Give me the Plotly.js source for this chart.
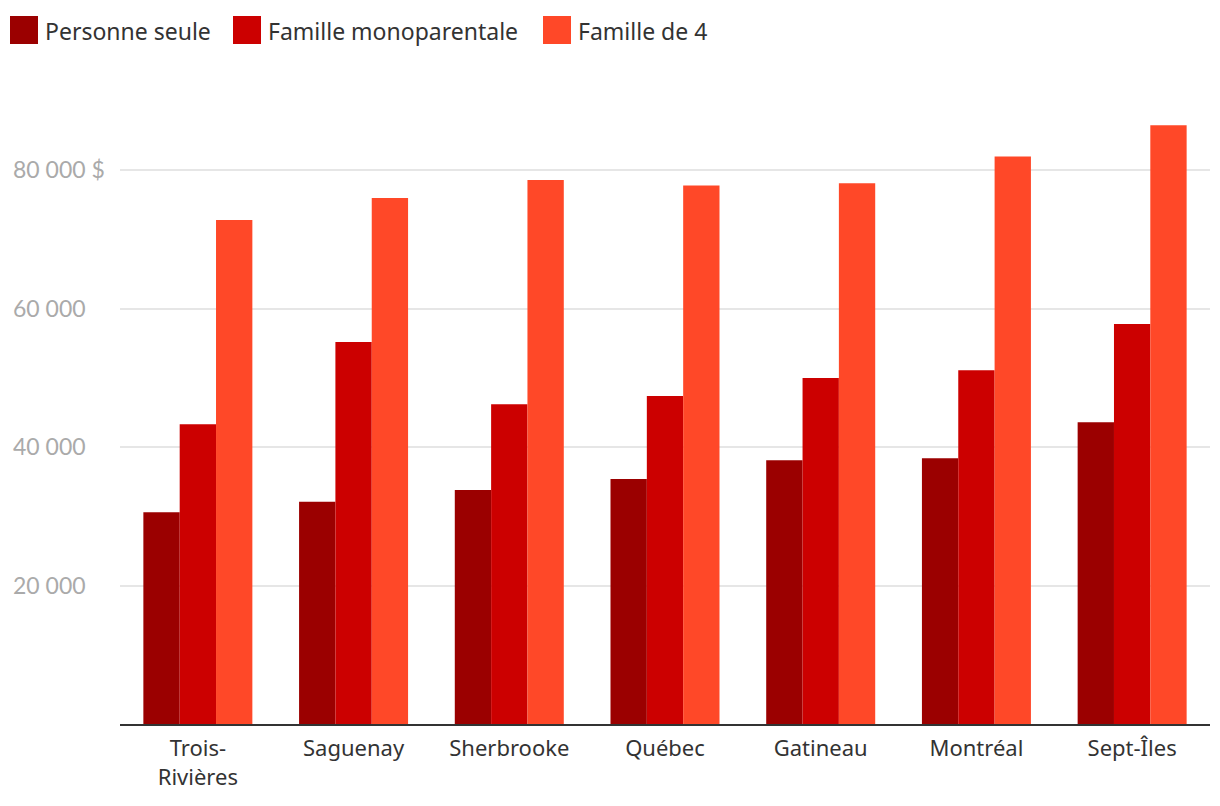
<!DOCTYPE html>
<html><head><meta charset="utf-8">
<script src="https://cdn.plot.ly/plotly-3.0.1.min.js"></script>
<style>html,body{margin:0;padding:0;background:#fff}#c{width:1220px;height:806px}</style>
</head><body><div id="c"></div>
<script>
const categories = ["Trois-<br>Rivières","Saguenay","Sherbrooke","Québec","Gatineau","Montréal","Sept-Îles"];
const seriesNames = ["Personne seule","Famille monoparentale","Famille de 4"];
const personneSeule = [30600, 32100, 33800, 35400, 38100, 38400, 43600];
const familleMono = [43300, 55200, 46200, 47400, 50000, 51100, 57800];
const famille4 = [72800, 76000, 78600, 77800, 78100, 82000, 86500];
const colors = ["#9b0000","#cc0000","#ff4828"];
const tickVals = [20000, 40000, 60000, 80000];
const tickText = ["20 000","40 000","60 000","80 000 $"];

const series = [personneSeule, familleMono, famille4];
const traces = series.map((v,i)=>({
  type:'bar', x:categories, y:v, name:seriesNames[i],
  marker:{color:colors[i], line:{width:0}}, hoverinfo:'none'
}));

const W=1220, H=806, L=120, R=10, T=101, B=82;
const pw=W-L-R, ph=H-T-B;
const px=x=>(x-L)/pw, py=y=>(H-B-y)/ph;
const legX=[10,233,543];
const shapes=[], annotations=[];
seriesNames.forEach((n,i)=>{
  shapes.push({type:'rect',xref:'paper',yref:'paper',x0:px(legX[i]),x1:px(legX[i]+28),y0:py(44),y1:py(16),fillcolor:colors[i],line:{width:0}});
  annotations.push({xref:'paper',yref:'paper',x:px(legX[i]+33),y:py(31),xanchor:'left',yanchor:'middle',text:n,showarrow:false,font:{family:'Noto Sans, sans-serif',size:23,color:'#333'}});
});

const layout={
  width:W,height:H,margin:{l:L,r:R,t:T,b:B},
  paper_bgcolor:'#fff',plot_bgcolor:'#fff',
  barmode:'group',bargap:0.3,bargroupgap:0,showlegend:false,
  xaxis:{range:[-0.5,6.5],showgrid:false,showline:true,linecolor:'#333',linewidth:2,ticks:'',ticklabelstandoff:4,
    tickfont:{family:'Noto Sans, sans-serif',size:22,color:'#333'},fixedrange:true},
  yaxis:{range:[0,90000],tickvals:tickVals,ticktext:tickText,showgrid:true,gridcolor:'#e6e6e6',gridwidth:2,
    zeroline:false,showline:false,ticks:'',ticklabelposition:'inside',ticklabelstandoff:-110,
    tickfont:{family:'Lato, sans-serif',size:23,color:'#aaaaaa'},fixedrange:true},
  shapes:shapes,annotations:annotations
};
Plotly.newPlot('c',traces,layout,{displayModeBar:false,staticPlot:true});
</script></body></html>
